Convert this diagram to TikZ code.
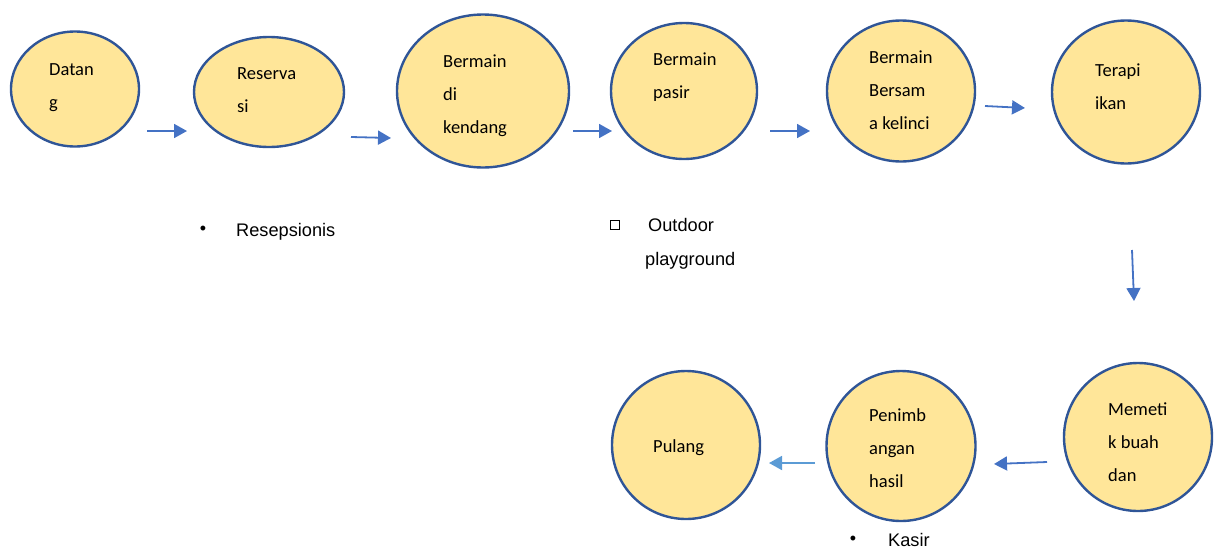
\documentclass[tikz,border=0pt]{standalone}
\usepackage{fontspec}
\setmainfont{Carlito}
\newfontfamily\arialfont{Liberation Sans}
\usetikzlibrary{arrows.meta,shapes.geometric}
\definecolor{stepfill}{RGB}{255,230,153}
\definecolor{stepline}{RGB}{47,85,151}
\definecolor{flowblue}{RGB}{68,114,196}
\definecolor{flowlight}{RGB}{91,155,213}
\tikzset{
  stepnode/.style={ellipse, draw=stepline, line width=2.4pt, fill=stepfill, inner sep=0pt},
  % anchored on the baseline of the last line
  steptext/.style={anchor=base west, inner sep=0pt, font=\fontsize{18.5}{33}\selectfont, align=left},
  notetext/.style={anchor=base west, inner sep=0pt, font=\arialfont\fontsize{18.2}{22}\selectfont},
  flow/.style={draw=flowblue, line width=1.8pt, -{Triangle[length=13pt,width=14pt]}},
}
\begin{document}
\begin{tikzpicture}[x=1pt,y=-1pt]
\useasboundingbox (0,0) rectangle (1214,552);
% stations of the visit
\node[stepnode, minimum width=128pt, minimum height=115pt] (datang) at (75,89) {};
\node[stepnode, minimum width=150pt, minimum height=110pt] (reservasi) at (269,92) {};
\node[stepnode, minimum width=172pt, minimum height=153pt] (kendang) at (483,91) {};
\node[stepnode, minimum width=146pt, minimum height=136pt] (pasir) at (684,91) {};
\node[stepnode, minimum width=148pt, minimum height=141pt] (kelinci) at (901,91) {};
\node[stepnode, minimum width=148pt, minimum height=143pt] (ikan) at (1126,92) {};
\node[stepnode, minimum width=148pt, minimum height=148pt] (memetik) at (1138,437) {};
\node[stepnode, minimum width=149pt, minimum height=150pt] (timbang) at (901,446) {};
\node[stepnode, minimum width=148pt, minimum height=148pt] (pulang) at (686,445) {};
% labels inside the stations
\node[steptext] (tdatang) at (49,108) {Datan\\g};
\node[steptext] (treservasi) at (237,112) {Reserva\\si};
\node[steptext] (tkendang) at (443,133) {Bermain\\di\\kendang};
\node[steptext] (tpasir) at (653,98) {Bermain\\pasir};
\node[steptext] (tkelinci) at (869,129) {Bermain\\Bersam\\a kelinci};
\node[steptext] (tikan) at (1095,109) {Terapi\\ikan};
\node[steptext] (tmemetik) at (1108,481) {Memeti\\k buah\\dan};
\node[steptext] (ttimbang) at (869,487) {Penimb\\angan\\hasil};
\node[steptext] (tpulang) at (653,452) {Pulang};
% notes under the stations
\node[anchor=center, inner sep=0pt, font=\arialfont\fontsize{18}{22}\selectfont] (b1) at (203,230) {•};
\node[notetext] (resepsionis) at (236,236) {Resepsionis};
\node[draw=black, line width=0.9pt, minimum size=9pt, inner sep=0pt] (sq) at (615,225) {};
\node[notetext] (outdoor) at (648,231) {Outdoor};
\node[notetext] (playground) at (645,265) {playground};
\node[anchor=center, inner sep=0pt, font=\arialfont\fontsize{18}{22}\selectfont] (b2) at (853,540) {•};
\node[notetext] (kasir) at (888,546) {Kasir};
% arrow end points
\coordinate (a1s) at (147,131); \coordinate (a1e) at (187,131);
\coordinate (a2s) at (351,137); \coordinate (a2e) at (391,138);
\coordinate (a3s) at (573,131); \coordinate (a3e) at (612,131);
\coordinate (a4s) at (770,131); \coordinate (a4e) at (810,131);
\coordinate (a5s) at (985,106); \coordinate (a5e) at (1025,108);
\coordinate (a6s) at (1132,250); \coordinate (a6e) at (1134,301);
\coordinate (a7s) at (1047,462); \coordinate (a7e) at (994,464);
\coordinate (a8s) at (815,463); \coordinate (a8e) at (769,463);
\draw[flow] (a1s) -- (a1e);
\draw[flow] (a2s) -- (a2e);
\draw[flow] (a3s) -- (a3e);
\draw[flow] (a4s) -- (a4e);
\draw[flow] (a5s) -- (a5e);
\draw[flow] (a6s) -- (a6e);
\draw[flow] (a7s) -- (a7e);
\draw[flow, draw=flowlight] (a8s) -- (a8e);
\end{tikzpicture}
\end{document}
